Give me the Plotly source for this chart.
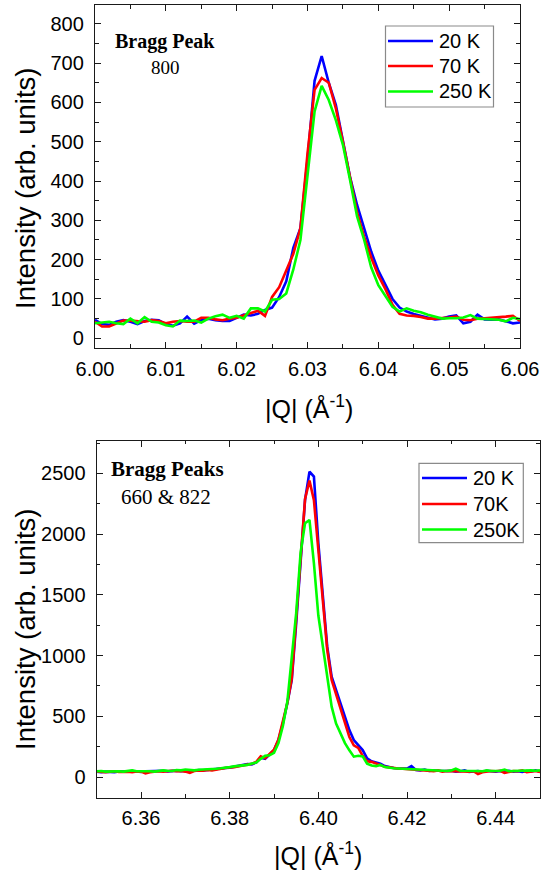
import numpy as np
import plotly.graph_objects as go

W, H = 546, 874

# ---------------- Bragg peak 800 ----------------
q_800 = np.round(np.arange(6.000, 6.0605, 0.001), 3)

i_800_20K = [47, 36, 34, 42, 46, 42, 36, 44, 47, 46,
             36, 32, 38, 55, 37, 46, 50, 46, 44, 44,
             52, 60, 58, 62, 72, 78, 105, 145, 230, 280,
             454, 655, 718, 650, 594, 505, 411, 339, 280, 220,
             172, 135, 100, 78, 68, 62, 57, 52, 48, 50,
             55, 58, 38, 42, 60, 48, 47, 48, 42, 38,
             40]
i_800_70K = [42, 30, 30, 38, 45, 45, 43, 42, 46, 44,
             38, 42, 44, 42, 42, 52, 52, 48, 46, 50,
             52, 58, 62, 70, 57, 105, 130, 175, 215, 280,
             470, 632, 662, 650, 585, 500, 405, 320, 258, 205,
             160, 125, 85, 62, 58, 57, 54, 50, 50, 51,
             53, 55, 47, 46, 50, 51, 52, 53, 55, 57,
             44]
i_800_250K = [38, 40, 42, 38, 36, 50, 38, 54, 42, 40,
              33, 30, 45, 44, 45, 40, 50, 56, 60, 52,
              57, 50, 76, 76, 68, 98, 100, 114, 175, 250,
              411, 577, 642, 606, 555, 492, 403, 310, 250, 180,
              135, 107, 80, 68, 76, 70, 66, 60, 55, 50,
              51, 51, 53, 59, 50, 49, 49, 47, 43, 52,
              49]
labels_800 = ["20 K", "70 K", "250 K"]

# ---------------- Bragg peaks 660 & 822 ----------------
q_660 = np.round(np.arange(6.350, 6.4505, 0.001), 3)

i_660_20K = [44, 40, 45, 42, 40, 47, 44, 45, 50, 44,
             42, 48, 50, 46, 49, 52, 47, 50, 53, 48,
             52, 55, 52, 58, 55, 60, 62, 65, 70, 75,
             78, 85, 90, 96, 108, 105, 120, 160, 150, 185,
             222, 305, 442, 607, 799, 1266, 1787, 2282, 2515, 2474,
             1925, 1513, 1074, 827, 717, 607, 497, 387, 305, 264,
             222, 154, 130, 120, 110, 90, 80, 75, 70, 68,
             70, 90, 58, 55, 62, 50, 55, 52, 48, 50,
             52, 45, 48, 55, 42, 47, 50, 44, 52, 48,
             45, 50, 47, 52, 44, 48, 42, 50, 46, 55,
             45]
i_660_70K = [46, 42, 40, 45, 48, 42, 46, 44, 40, 47,
             45, 30, 40, 44, 48, 45, 50, 52, 48, 50,
             45, 35, 50, 55, 52, 58, 55, 62, 68, 72,
             80, 82, 88, 92, 100, 110, 125, 170, 155, 190,
             225, 310, 450, 610, 810, 1290, 1850, 2290, 2441, 2280,
             1870, 1480, 1050, 800, 680, 560, 430, 330, 262, 240,
             175, 130, 125, 110, 100, 85, 80, 72, 70, 68,
             65, 60, 58, 52, 55, 50, 48, 55, 45, 50,
             48, 52, 50, 42, 45, 48, 25, 40, 46, 50,
             48, 52, 35, 45, 50, 48, 55, 40, 45, 50,
             42]
i_660_250K = [48, 50, 45, 47, 52, 48, 45, 50, 55, 48,
              50, 52, 48, 45, 50, 55, 52, 50, 58, 55,
              62, 58, 55, 60, 62, 58, 65, 68, 72, 80,
              82, 88, 92, 95, 100, 112, 120, 150, 175, 180,
              200, 280, 420, 620, 1000, 1350, 1850, 2090, 2117, 1760,
              1330, 1070, 800, 580, 440, 360, 280, 220, 168, 175,
              170, 110, 95, 90, 100, 82, 75, 72, 70, 68,
              65, 62, 60, 58, 55, 55, 52, 50, 52, 50,
              55, 70, 52, 50, 48, 52, 50, 48, 55, 50,
              48, 52, 62, 48, 50, 52, 48, 50, 55, 52,
              55]
labels_660 = ["20 K", "70K", "250K"]

COLORS = ["#0000FF", "#FF0000", "#00FF00"]
LW = 2.6
SANS = "Liberation Sans, Arial, sans-serif"
SERIF = "Liberation Serif, Times New Roman, serif"
INK = "#1a1a1a"


def px(x):
    return x / W


def py(y):
    return 1 - y / H


fig = go.Figure()

for name, ys, col in zip(labels_800, [i_800_20K, i_800_70K, i_800_250K], COLORS):
    fig.add_trace(go.Scatter(x=q_800, y=ys, mode="lines", name=name,
                             line=dict(color=col, width=LW),
                             xaxis="x", yaxis="y", showlegend=False))

for name, ys, col in zip(labels_660, [i_660_20K, i_660_70K, i_660_250K], COLORS):
    fig.add_trace(go.Scatter(x=q_660, y=ys, mode="lines", name=name,
                             line=dict(color=col, width=LW),
                             xaxis="x2", yaxis="y2", showlegend=False))

frame = dict(showline=True, linecolor=INK, linewidth=1.3, mirror="allticks",
             ticks="inside", ticklen=6, tickwidth=1.2, tickcolor=INK,
             showgrid=False, zeroline=False, automargin=False,
             tickfont=dict(family=SANS, size=20, color="black"))
minor = dict(ticks="inside", ticklen=3.5, tickwidth=1.2, tickcolor=INK)

fig.update_layout(
    width=W, height=H,
    margin=dict(l=0, r=0, t=0, b=0, autoexpand=False),
    paper_bgcolor="white", plot_bgcolor="white",
    showlegend=False,
    xaxis=dict(frame, domain=[px(95), px(520)], anchor="y", range=[6.0, 6.06],
               tick0=6.0, dtick=0.01, tickformat=".2f", ticklabelstandoff=3,
               minor=dict(minor, tick0=6.0, dtick=0.005)),
    yaxis=dict(frame, domain=[py(347.7), py(5.3)], anchor="x", range=[-24, 847],
               tick0=0, dtick=100, ticklabelstandoff=6,
               minor=dict(minor, tick0=0, dtick=50)),
    xaxis2=dict(frame, domain=[px(96.7), px(540)], anchor="y2", range=[6.35, 6.45],
                tick0=6.36, dtick=0.02, tickformat=".2f", ticklabelstandoff=2,
                minor=dict(minor, tick0=6.35, dtick=0.01)),
    yaxis2=dict(frame, domain=[py(797.7), py(440.7)], anchor="x2", range=[-170, 2770],
                tick0=0, dtick=500, ticklabelstandoff=6,
                minor=dict(minor, tick0=0, dtick=250)),
)

ann = [
    # axis titles
    dict(text="Intensity (arb. units)", x=px(25), y=py(189), textangle=-90,
         font=dict(family=SANS, size=27.5, color="black")),
    dict(text="Intensity (arb. units)", x=px(25), y=py(630), textangle=-90,
         font=dict(family=SANS, size=27.5, color="black")),
    dict(text="|Q| (Å<sup>-1</sup>)", x=px(309), y=py(407),
         font=dict(family=SANS, size=25, color="black")),
    dict(text="|Q| (Å<sup>-1</sup>)", x=px(318), y=py(854),
         font=dict(family=SANS, size=25, color="black")),
    # panel labels
    dict(text="<b>Bragg Peak</b>", x=px(165.4), y=py(42),
         font=dict(family=SERIF, size=20, color="black")),
    dict(text="800", x=px(165), y=py(67.5),
         font=dict(family=SERIF, size=19, color="black")),
    dict(text="<b>Bragg Peaks</b>", x=px(167.7), y=py(469),
         font=dict(family=SERIF, size=21, color="black")),
    dict(text="660 &amp; 822", x=px(166), y=py(496.5),
         font=dict(family=SERIF, size=21, color="black")),
]
for a in ann:
    a.update(xref="paper", yref="paper", xanchor="center", yanchor="middle", showarrow=False)
    fig.add_annotation(**a)

# legend boxes: (box left, right, top, bottom), sample line x0/x1, text x, row centres
legends = [
    (labels_800, (385.5, 493.5, 26, 107), (388, 433), 437, [41, 66, 91.5]),
    (labels_660, (419, 523.3, 463.3, 542.7), (422, 467), 471, [478, 504, 529.5]),
]
for names, (bl, br, bt, bb), (lx0, lx1), tx, rows in legends:
    fig.add_shape(type="rect", xref="paper", yref="paper",
                  x0=px(bl), x1=px(br), y0=py(bb), y1=py(bt),
                  line=dict(color="#8a8a8a", width=1.2), fillcolor="white", layer="above")
    for name, col, ry in zip(names, COLORS, rows):
        fig.add_shape(type="line", xref="paper", yref="paper",
                      x0=px(lx0), x1=px(lx1), y0=py(ry), y1=py(ry),
                      line=dict(color=col, width=LW), layer="above")
        fig.add_annotation(text=name, xref="paper", yref="paper", x=px(tx), y=py(ry),
                           xanchor="left", yanchor="middle", showarrow=False,
                           font=dict(family=SANS, size=20, color="black"))

fig.write_html("out.html")
